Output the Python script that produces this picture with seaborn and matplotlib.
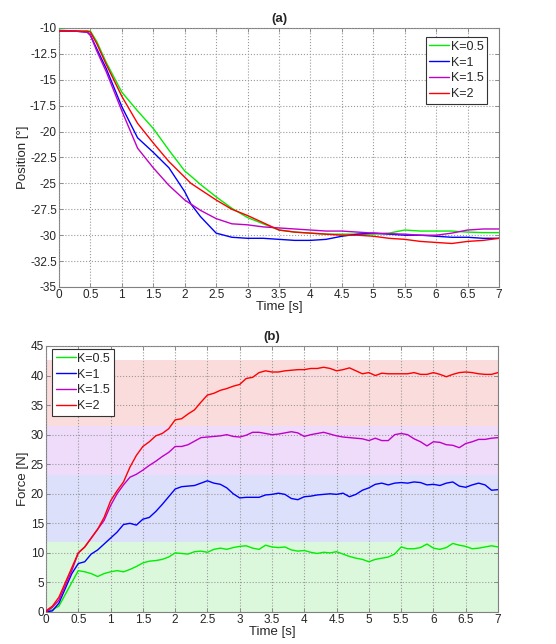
import numpy as np
import pandas as pd
import matplotlib
matplotlib.use("Agg")
import matplotlib.pyplot as plt
import seaborn as sns
from matplotlib.lines import Line2D

labels = ["K=0.5", "K=1", "K=1.5", "K=2"]
colors = ["#00ee00", "#0000ff", "#c000c8", "#ff0000"]

# ---- (a) Position ----
t_pos = [0, 0.25, 0.45, 0.5, 0.6, 0.75, 1.0, 1.25, 1.5, 1.75, 2.0, 2.1, 2.25, 2.5, 2.75,
         3.0, 3.25, 3.5, 3.75, 4.0, 4.25, 4.5, 4.75, 5.0, 5.25, 5.5, 5.75, 6.0, 6.25,
         6.5, 6.75, 7.0]
pos_k05 = [-10.2, -10.3, -10.3, -10.3, -11.3, -13.3, -16.2, -18.0, -19.7, -21.8, -23.8,
           -24.3, -25.1, -26.3, -27.4, -28.3, -28.9, -29.5, -29.7, -29.8, -29.9, -29.9,
           -29.9, -29.9, -29.8, -29.5, -29.6, -29.6, -29.6, -29.7, -29.75, -29.75]
pos_k1 = [-10.3, -10.3, -10.4, -10.7, -12.0, -13.9, -17.6, -20.6, -22.0, -23.5, -25.8,
          -27.0, -28.2, -29.8, -30.2, -30.3, -30.3, -30.4, -30.5, -30.5, -30.4, -30.1,
          -29.9, -29.8, -29.9, -30.0, -30.0, -30.1, -30.2, -30.2, -30.3, -30.3]
pos_k15 = [-10.3, -10.3, -10.4, -10.7, -12.2, -14.2, -18.0, -21.6, -23.5, -25.2, -26.6,
           -27.0, -27.6, -28.4, -28.9, -29.0, -29.2, -29.3, -29.4, -29.5, -29.6, -29.6,
           -29.7, -29.8, -29.85, -29.9, -30.0, -30.0, -29.8, -29.5, -29.4, -29.4]
pos_k2 = [-10.3, -10.3, -10.3, -10.4, -11.5, -13.5, -16.6, -19.2, -21.1, -22.9, -24.4,
          -25.0, -25.6, -26.6, -27.5, -28.1, -28.8, -29.5, -29.7, -29.8, -29.9, -30.0,
          -30.0, -30.1, -30.3, -30.4, -30.6, -30.7, -30.8, -30.6, -30.5, -30.3]

# ---- (b) Force ----
t_force = [0.0, 0.1, 0.2, 0.3, 0.4, 0.5, 0.6, 0.7, 0.8, 0.9, 1.0, 1.1, 1.2, 1.3, 1.4,
           1.5, 1.6, 1.7, 1.8, 1.9, 2.0, 2.1, 2.2, 2.3, 2.4, 2.5, 2.6, 2.7, 2.8, 2.9,
           3.0, 3.1, 3.2, 3.3, 3.4, 3.5, 3.6, 3.7, 3.8, 3.9, 4.0, 4.1, 4.2, 4.3, 4.4,
           4.5, 4.6, 4.7, 4.8, 4.9, 5.0, 5.1, 5.2, 5.3, 5.4, 5.5, 5.6, 5.7, 5.8, 5.9,
           6.0, 6.1, 6.2, 6.3, 6.4, 6.5, 6.6, 6.7, 6.8, 6.9, 7.0]
f_k05 = [0.0, 0.4, 1.0, 3.0, 5.0, 7.0, 6.8, 6.5, 6.0, 6.5, 6.8, 7.0, 6.8, 7.2, 7.7,
         8.3, 8.6, 8.7, 8.9, 9.3, 10.0, 9.9, 9.8, 10.2, 10.3, 10.1, 10.6, 10.8, 10.6, 10.9,
         11.1, 11.2, 10.8, 10.6, 11.3, 11.0, 10.9, 11.0, 10.5, 10.3, 10.4, 10.1, 9.9, 10.1, 10.0,
         10.2, 9.8, 9.4, 9.1, 8.9, 8.5, 8.9, 9.1, 9.3, 9.8, 11.0, 10.7, 10.7, 10.9, 11.5,
         10.8, 10.6, 10.9, 11.6, 11.3, 11.1, 10.7, 10.8, 11.0, 11.2, 11.0]
f_k1 = [0.0, 0.2, 1.5, 4.0, 6.5, 8.2, 8.5, 9.8, 10.5, 11.5, 12.5, 13.5, 14.8, 15.0, 14.7,
        15.7, 16.0, 17.0, 18.2, 19.5, 20.8, 21.2, 21.3, 21.4, 21.8, 22.2, 21.8, 21.6, 21.0, 20.0,
        19.3, 19.4, 19.4, 19.4, 19.8, 19.9, 20.1, 19.9, 19.2, 19.0, 19.5, 19.6, 19.8, 19.9, 20.0,
        19.9, 20.1, 19.5, 19.9, 20.6, 21.0, 21.6, 21.8, 21.5, 21.8, 21.9, 21.8, 22.0, 21.9, 21.5,
        21.6, 21.4, 21.8, 22.0, 21.3, 21.1, 21.5, 21.8, 21.5, 20.6, 20.7]
f_k15 = [0.0, 0.8, 2.0, 4.5, 7.0, 10.0, 11.0, 12.5, 14.0, 15.5, 18.0, 20.0, 21.5, 22.8, 23.3,
         24.0, 24.8, 25.5, 26.3, 27.0, 28.0, 28.0, 28.3, 28.9, 29.5, 29.6, 29.7, 29.8, 30.0, 29.7,
         29.6, 29.9, 30.4, 30.4, 30.2, 30.0, 30.1, 30.3, 30.5, 30.3, 29.7, 30.0, 30.2, 30.4, 30.1,
         29.8, 29.6, 29.5, 29.4, 29.3, 29.0, 29.4, 29.0, 29.0, 30.0, 30.2, 30.0, 29.3, 28.8, 28.1,
         28.8, 28.7, 28.3, 28.2, 27.8, 28.5, 28.8, 29.2, 29.2, 29.4, 29.5]
f_k2 = [0.2, 1.0, 2.5, 5.0, 7.5, 10.0, 11.0, 12.5, 14.0, 16.0, 18.8, 20.5, 22.0, 24.5, 26.5,
        28.0, 28.8, 29.8, 30.2, 31.0, 32.5, 32.7, 33.5, 34.2, 35.5, 36.7, 37.0, 37.5, 37.8, 38.2,
        38.5, 39.5, 39.7, 40.5, 40.8, 40.6, 40.6, 40.8, 40.9, 41.0, 41.0, 41.2, 41.2, 41.4, 41.2,
        40.8, 41.0, 41.3, 40.8, 40.3, 40.5, 40.0, 40.4, 40.3, 40.3, 40.3, 40.3, 40.5, 40.2, 40.2,
        40.5, 40.2, 39.8, 40.2, 40.5, 40.6, 40.5, 40.3, 40.2, 40.2, 40.5]

# background bands (lower, upper) per K
band_lo = [0.0, 11.9, 23.1, 31.45]
band_hi = [11.9, 23.1, 31.45, 42.6]
band_colors = ["#dcf8dc", "#dde0fb", "#efdcfb", "#fbdcdc"]

pos_df = pd.concat([pd.DataFrame({"t": t_pos, "v": v, "K": k})
                    for k, v in zip(labels, [pos_k05, pos_k1, pos_k15, pos_k2])])
force_df = pd.concat([pd.DataFrame({"t": t_force, "v": v, "K": k})
                      for k, v in zip(labels, [f_k05, f_k1, f_k15, f_k2])])

sns.set_theme(style="white")
plt.rcParams["font.family"] = ["Liberation Sans", "DejaVu Sans"]
plt.rcParams["font.size"] = 8

fig = plt.figure(figsize=(5.56, 6.44), dpi=100)
ax1 = fig.add_axes([59 / 556, 1 - 287 / 644, 440 / 556, 259 / 644])
ax2 = fig.add_axes([46 / 556, 1 - 612 / 644, 452 / 556, 266 / 644])

palette = dict(zip(labels, colors))

for lo, hi, c in zip(band_lo, band_hi, band_colors):
    ax2.axhspan(lo, hi, color=c, lw=0, zorder=0)

sns.lineplot(data=pos_df, x="t", y="v", hue="K", palette=palette, ax=ax1,
             estimator=None, sort=False, lw=1, legend=False, zorder=3)
sns.lineplot(data=force_df, x="t", y="v", hue="K", palette=palette, ax=ax2,
             estimator=None, sort=False, lw=1, legend=False, zorder=3)

def style(ax, yticks, ylim, ylabel, title):
    ax.set_xlim(0, 7)
    ax.set_ylim(*ylim)
    ax.set_xticks(np.arange(0, 7.01, 0.5))
    ax.set_xticklabels([f"{x:g}" for x in np.arange(0, 7.01, 0.5)])
    ax.set_yticks(yticks)
    ax.set_yticklabels([f"{y:g}" for y in yticks])
    ax.grid(True, color="#9a9a9a", linestyle=":", linewidth=0.8, zorder=1)
    ax.set_axisbelow(False)
    for s in ax.spines.values():
        s.set_color("#808080")
        s.set_linewidth(0.8)
    ax.tick_params(direction="in", length=3, width=0.6, color="#808080",
                   labelsize=8.5, pad=1.5, top=True, right=True, bottom=True, left=True)
    ax.set_xlabel("Time [s]", fontsize=9.5, labelpad=0)
    ax.set_ylabel(ylabel, fontsize=9.5, labelpad=1)
    ax.set_title(title, fontsize=9.5, fontweight="bold", pad=4)

style(ax1, np.arange(-35, -9.9, 2.5), (-35, -10), "Position [°]", "(a)")
style(ax2, np.arange(0, 45.1, 5), (0, 45), "Force [N]", "(b)")

handles = [Line2D([0], [0], color=c, lw=1) for c in colors]
for ax, loc, anchor in [(ax1, "upper right", (487 / 556, 1 - 37 / 644)),
                        (ax2, "upper left", (52 / 556, 1 - 349 / 644))]:
    leg = ax.legend(handles, labels, loc=loc, bbox_to_anchor=anchor,
                    bbox_transform=fig.transFigure, fontsize=9, frameon=True,
                    fancybox=False, framealpha=1, edgecolor="#333333",
                    handlelength=1.6, handletextpad=0.1, labelspacing=0.3,
                    borderpad=0.3, borderaxespad=0)
    leg.get_frame().set_linewidth(0.8)
    leg.set_zorder(5)

fig.savefig("out.png", dpi=100)
